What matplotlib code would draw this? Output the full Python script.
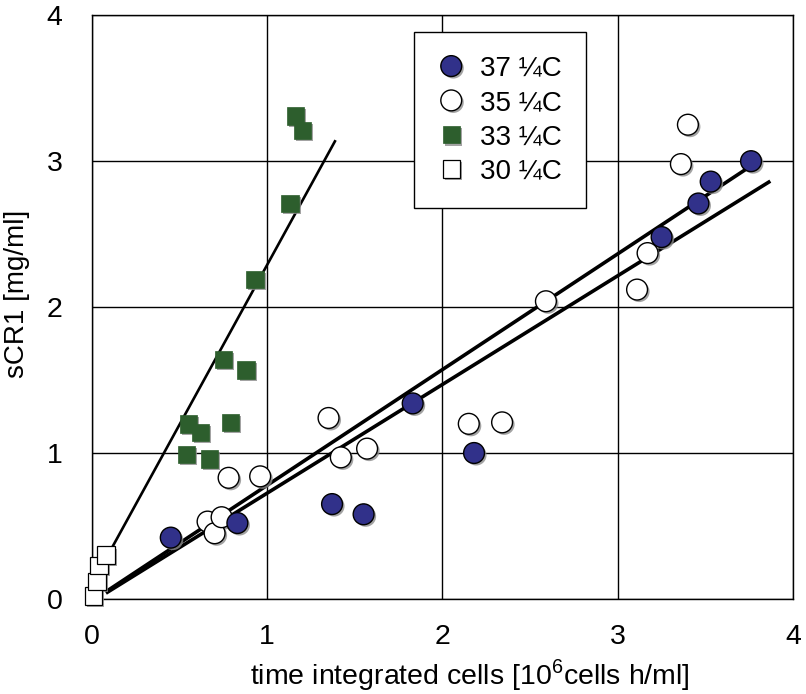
import matplotlib
matplotlib.use("Agg")
import matplotlib.pyplot as plt
import matplotlib.patheffects as pe
import numpy as np

plt.rcParams['font.family'] = ['Liberation Sans', 'DejaVu Sans']
plt.rcParams['mathtext.fontset'] = 'custom'
plt.rcParams['mathtext.rm'] = 'Liberation Sans'

# 37 C
x37 = [0.45, 0.83, 1.37, 1.55, 1.83, 2.18, 3.25, 3.46, 3.53, 3.76]
y37 = [0.42, 0.52, 0.65, 0.58, 1.34, 1.00, 2.48, 2.71, 2.86, 3.00]
# 35 C
x35 = [0.66, 0.70, 0.74, 0.78, 0.96, 1.35, 1.42, 1.57, 2.15, 2.34, 2.59, 3.11, 3.17, 3.36, 3.40]
y35 = [0.53, 0.45, 0.56, 0.83, 0.84, 1.24, 0.97, 1.03, 1.20, 1.21, 2.04, 2.12, 2.37, 2.98, 3.25]
# 33 C
x33 = [0.54, 0.55, 0.62, 0.67, 0.75, 0.79, 0.88, 0.93, 1.13, 1.16, 1.20]
y33 = [0.99, 1.20, 1.14, 0.96, 1.64, 1.21, 1.57, 2.19, 2.71, 3.31, 3.21]
# 30 C
x30 = [0.01, 0.03, 0.04, 0.08]
y30 = [0.02, 0.12, 0.23, 0.30]

# fitted lines: slope, intercept, x range
fit37 = (0.793, -0.014, 0.08, 3.76)
fit35 = (0.745, -0.020, 0.08, 3.87)
fit33 = (2.19, 0.10, 0.10, 1.39)

labels = ["37 ¼C", "35 ¼C", "33 ¼C", "30 ¼C"]
ticks = [0, 1, 2, 3, 4]

fig = plt.figure(figsize=(8.06, 6.94), dpi=100)
ax = fig.add_axes([0.114, 0.137, 0.870, 0.841])

# regression lines
for (m, b, x0, x1), lw in [(fit37, 2.6), (fit35, 2.6), (fit33, 1.9)]:
    xs = np.array([x0, x1])
    ax.plot(xs, m * xs + b, color='black', lw=lw, zorder=2, solid_capstyle='butt')

shadow = [pe.SimplePatchShadow(offset=(1.5, -1.5), shadow_rgbFace='0.55', alpha=0.8), pe.Normal()]

ax.plot(x30, y30, 's', ms=12.5, mfc='white', mec='black', mew=0.9, label=labels[3],
        clip_on=False, zorder=4, path_effects=shadow)
ax.plot(x33, y33, 's', ms=12.5, mfc='#2d5e2d', mec='#2d5e2d', mew=0.5, label=labels[2],
        clip_on=False, zorder=4, path_effects=shadow)
ax.plot(x35, y35, 'o', ms=15, mfc='white', mec='black', mew=1.0, label=labels[1],
        clip_on=False, zorder=4, path_effects=shadow)
ax.plot(x37, y37, 'o', ms=15, mfc='#31318a', mec='black', mew=1.0, label=labels[0],
        clip_on=False, zorder=5, path_effects=shadow)

ax.set_xlim(0, 4)
ax.set_ylim(0, 4)
ax.set_xticks(ticks)
ax.set_yticks(ticks)
ax.grid(True, color='black', lw=1.0)
ax.set_axisbelow(True)
for s in ax.spines.values():
    s.set_color('black')
    s.set_linewidth(1.0)
ax.tick_params(axis='both', length=0, labelsize=20.5)
ax.tick_params(axis='x', pad=18)
ax.tick_params(axis='y', pad=21)

ax.set_xlabel("time integrated cells [10$^{6}$cells h/ml]", fontsize=20.5)
ax.xaxis.set_label_coords(0.539, -0.100)
ax.set_ylabel("sCR1 [mg/ml]", fontsize=20)
ax.yaxis.set_label_coords(-0.088, 0.522)

handles, labs = ax.get_legend_handles_labels()
order = [3, 2, 1, 0]
leg = ax.legend([handles[i] for i in order], [labs[i] for i in order],
                loc='upper left', bbox_to_anchor=(0.459, 0.971), borderaxespad=0,
                fancybox=False, framealpha=1, edgecolor='black', fontsize=20,
                handlelength=1.0, handletextpad=0.55, labelspacing=0.3, borderpad=0.85)
leg.get_frame().set_linewidth(1.0)
leg.set_zorder(10)

plt.savefig("out.png", dpi=100)
